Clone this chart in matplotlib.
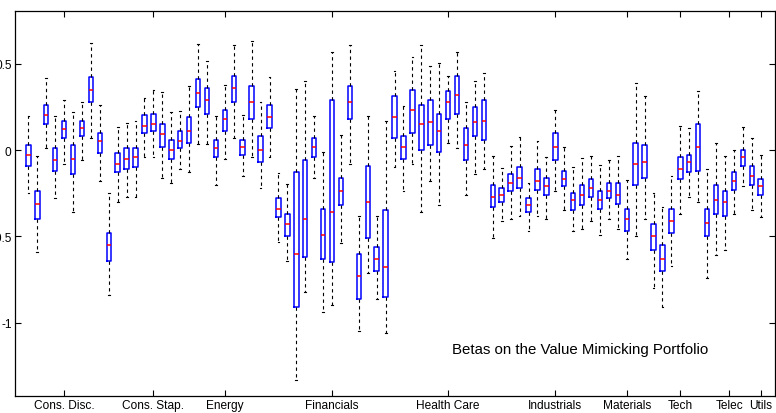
import matplotlib
matplotlib.use("Agg")
import matplotlib.pyplot as plt

plt.rcParams["font.family"] = ["Liberation Sans", "DejaVu Sans"]
plt.rcParams["axes.unicode_minus"] = False

# Sector groups and where their labels sit along the box index axis
sectors = ["Cons. Disc.", "Cons. Stap.", "Energy", "Financials", "Health Care",
           "Industrials", "Materials", "Tech", "Telec", "Utils"]
sector_pos = [5, 15, 23, 35, 48, 60, 68, 74, 79.5, 83]

# Per-portfolio beta distributions (one box per portfolio)
whisker_hi = [0.195, -0.033, 0.415, 0.199, 0.292, 0.218, 0.276, 0.620, 0.263, -0.249,
              0.135, 0.154, 0.170, 0.299, 0.349, 0.338, 0.218, 0.228, 0.373, 0.612,
              0.515, 0.195, 0.376, 0.608, 0.203, 0.633, 0.280, 0.425, -0.133, -0.197,
              0.353, 0.402, 0.195, -0.010, 0.566, 0.087, 0.608, -0.380, 0.195, -0.384,
              0.170, 0.456, 0.253, 0.537, 0.608, 0.485, 0.502, 0.431, 0.569, 0.276,
              0.398, 0.444, -0.033, -0.106, 0.021, 0.073, -0.191, 0.054, -0.042, 0.234,
              0.019, -0.100, -0.048, -0.033, -0.087, -0.056, -0.033, -0.172, 0.386, 0.315,
              -0.247, -0.332, -0.149, 0.139, 0.129, 0.340, -0.110, 0.039, -0.037, 0.002,
              0.135, 0.068, -0.031]
q3 = [0.03, -0.24, 0.26, 0.01, 0.17, 0.03, 0.17, 0.42, 0.10, -0.48,
      -0.02, 0.01, 0.01, 0.20, 0.21, 0.15, 0.06, 0.11, 0.19, 0.41,
      0.36, 0.06, 0.23, 0.43, 0.06, 0.37, 0.08, 0.26, -0.28, -0.37,
      -0.13, -0.06, 0.07, -0.34, 0.29, -0.16, 0.37, -0.60, -0.09, -0.56,
      -0.35, 0.31, 0.08, 0.35, 0.26, 0.29, 0.21, 0.34, 0.43, 0.13,
      0.25, 0.29, -0.20, -0.22, -0.14, -0.10, -0.28, -0.11, -0.16, 0.10,
      -0.12, -0.25, -0.20, -0.17, -0.24, -0.19, -0.19, -0.34, 0.04, 0.03,
      -0.43, -0.55, -0.34, -0.04, -0.03, 0.15, -0.34, -0.20, -0.24, -0.13,
      0.00, -0.09, -0.17]
median = [-0.03, -0.31, 0.20, -0.06, 0.12, -0.05, 0.125, 0.35, 0.05, -0.55,
          -0.08, -0.05, -0.04, 0.14, 0.15, 0.09, 0.00, 0.05, 0.11, 0.33,
          0.29, 0.01, 0.18, 0.36, 0.02, 0.28, 0.00, 0.19, -0.34, -0.43,
          -0.60, -0.40, 0.02, -0.49, -0.36, -0.24, 0.28, -0.73, -0.30, -0.63,
          -0.68, 0.19, 0.02, 0.23, 0.15, 0.16, 0.11, 0.28, 0.32, 0.03,
          0.16, 0.17, -0.27, -0.26, -0.19, -0.16, -0.32, -0.18, -0.21, 0.02,
          -0.17, -0.29, -0.26, -0.22, -0.29, -0.24, -0.26, -0.40, -0.08, -0.07,
          -0.50, -0.63, -0.41, -0.11, -0.07, 0.02, -0.42, -0.29, -0.30, -0.18,
          -0.04, -0.15, -0.21]
q1 = [-0.09, -0.40, 0.15, -0.12, 0.07, -0.14, 0.08, 0.28, -0.02, -0.64,
      -0.13, -0.11, -0.10, 0.10, 0.11, 0.02, -0.05, 0.01, 0.04, 0.25,
      0.21, -0.04, 0.11, 0.28, -0.03, 0.18, -0.07, 0.13, -0.39, -0.50,
      -0.91, -0.62, -0.04, -0.63, -0.65, -0.32, 0.18, -0.86, -0.51, -0.70,
      -0.85, 0.07, -0.05, 0.10, 0.00, 0.03, -0.01, 0.18, 0.21, -0.06,
      0.08, 0.06, -0.33, -0.30, -0.24, -0.22, -0.36, -0.23, -0.26, -0.06,
      -0.21, -0.35, -0.32, -0.27, -0.34, -0.28, -0.31, -0.47, -0.20, -0.16,
      -0.58, -0.70, -0.48, -0.17, -0.13, -0.12, -0.50, -0.37, -0.38, -0.23,
      -0.09, -0.20, -0.26]
whisker_lo = [-0.25, -0.59, 0.01, -0.28, -0.08, -0.36, -0.06, 0.07, -0.18, -0.84,
              -0.30, -0.27, -0.27, -0.04, -0.04, -0.16, -0.19, -0.11, -0.13, 0.035,
              0.035, -0.20, -0.05, 0.07, -0.15, -0.04, -0.22, -0.04, -0.53, -0.64,
              -1.33, -0.82, -0.16, -0.94, -0.90, -0.54, -0.08, -1.05, -0.71, -0.86,
              -1.06, -0.10, -0.24, -0.08, -0.36, -0.18, -0.32, 0.04, 0.01, -0.26,
              -0.14, -0.11, -0.51, -0.41, -0.40, -0.38, -0.47, -0.38, -0.40, -0.24,
              -0.35, -0.47, -0.46, -0.41, -0.49, -0.40, -0.46, -0.63, -0.50, -0.40,
              -0.80, -0.91, -0.67, -0.37, -0.27, -0.30, -0.74, -0.61, -0.58, -0.37,
              -0.21, -0.35, -0.39]

title_text = "Betas on the Value Mimicking Portfolio"

stats = [dict(whislo=lo, q1=a, med=m, q3=b, whishi=hi, fliers=[])
         for lo, a, m, b, hi in zip(whisker_lo, q1, median, q3, whisker_hi)]
positions = list(range(1, len(stats) + 1))

fig = plt.figure(figsize=(7.76, 4.14), dpi=100)
ax = fig.add_axes([15 / 776, 17 / 414, 760 / 776, 385 / 414])

ax.bxp(stats, positions=positions, widths=0.5, capwidths=0.2,
       boxprops=dict(color="#0000ff", linewidth=1.1),
       medianprops=dict(color="#ff0000", linewidth=1.1),
       whiskerprops=dict(color="black", linewidth=0.8, linestyle=(0, (3, 3))),
       capprops=dict(color="black", linewidth=0.8),
       showfliers=False, manage_ticks=False)

ax.set_xlim(-0.5, 84.6)
ax.set_ylim(-1.424, 0.805)

ax.set_xticks(sector_pos)
ax.set_xticklabels(sectors, fontsize=8.6)
ax.set_yticks([-1, -0.5, 0, 0.5])
ax.set_yticklabels(["-1", "-0.5", "0", "0.5"], fontsize=8.6)
ax.tick_params(axis="both", direction="in", length=4, width=0.8,
               top=True, right=True, pad=2.5)

for spine in ax.spines.values():
    spine.set_linewidth(0.9)

ax.text(48.4, -1.152, title_text, fontsize=10.8, ha="left", va="center")

fig.savefig("out.png", dpi=100)
